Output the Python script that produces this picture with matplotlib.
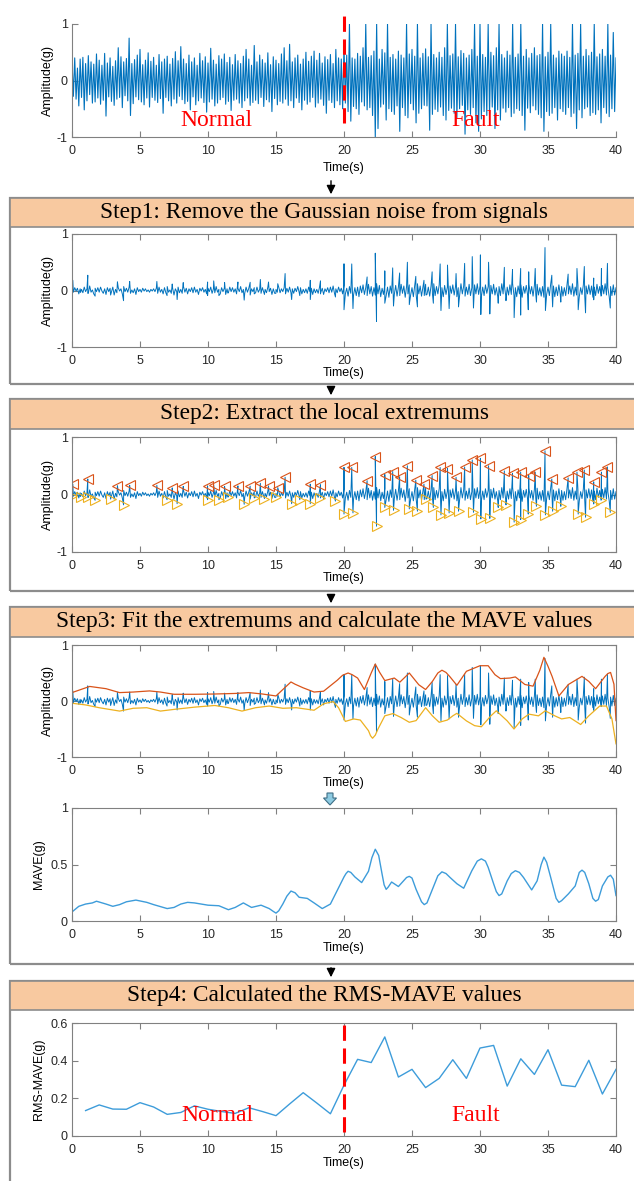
import numpy as np
import matplotlib
matplotlib.use("Agg")
import matplotlib.pyplot as plt
from matplotlib.patches import Rectangle, FancyArrowPatch, FancyArrow

plt.rcParams['font.family'] = ['Liberation Sans', 'DejaVu Sans']
plt.rcParams['axes.unicode_minus'] = False

W, H = 634, 1181

# raw vibration signal, sampled every 0.1 s (values in 0.01 g)
raw_rows = [
    [35, -28, 40, -33, 22, -45, 38, -30, 41, -52, 30, -36, 44, -25, 33, -40, 29, -38, 47, -31],
    [36, -42, 27, -35, 48, -63, 31, -29, 40, -37, 25, -44, 35, -33, 58, -30, 42, -48, 33, -27],
    [39, -36, 75, -62, 30, -41, 37, -29, 45, -34, 55, -38, 28, -43, 36, -31, 49, -47, 34, -30],
    [41, -35, 27, -39, 46, -32, 33, -58, 38, -30, 43, -36, 29, -45, 39, -33, 51, -40, 35, -28],
    [60, -34, 38, -41, 30, -37, 45, -52, 33, -29, 40, -43, 27, -36, 48, -31, 35, -39, 42, -56],
    [31, -38, 57, -33, 36, -45, 29, -40, 44, -34, 38, -30, 47, -42, 32, -37, 41, -53, 28, -35],
    [46, -33, 35, -40, 30, -48, 43, -36, 55, -31, 38, -44, 27, -39, 62, -35, 33, -41, 45, -30],
    [37, -46, 31, -34, 49, -38, 28, -55, 42, -32, 36, -43, 30, -37, 47, -40, 58, -33, 35, -44],
    [64, -36, 33, -48, 40, -31, 45, -39, 29, -52, 38, -35, 50, -42, 34, -38, 43, -30, 52, -47],
    [36, -40, 48, -33, 31, -44, 42, -58, 37, -35, 46, -39, 30, -48, 55, -36, 40, -43, 38, -50],
    [62, -40, 45, -55, 100, -72, 40, -46, 38, -50, 48, -60, 43, -38, 58, -45, 100, -52, 41, -48],
    [44, -62, 52, -100, 100, -85, 38, -47, 55, -42, 49, -70, 100, -50, 41, -55, 46, -60, 38, -45],
    [52, -90, 45, -48, 40, -62, 100, -66, 47, -41, 55, -52, 43, -75, 100, -58, 40, -50, 48, -44],
    [56, -45, 42, -88, 100, -60, 46, -51, 40, -55, 50, -47, 41, -62, 58, -70, 100, -53, 44, -49],
    [47, -58, 100, -66, 42, -50, 53, -44, 48, -95, 40, -52, 45, -60, 55, -48, 100, -75, 43, -90],
    [100, -68, 46, -55, 41, -62, 100, -60, 50, -47, 44, -85, 58, -52, 100, -70, 46, -49, 40, -56],
    [52, -48, 45, -64, 100, -58, 41, -50, 47, -53, 100, -62, 43, -88, 55, -49, 40, -57, 48, -45],
    [58, -52, 44, -60, 46, -66, 100, -90, 42, -55, 50, -62, 100, -58, 45, -48, 40, -70, 52, -50],
    [47, -55, 43, -60, 52, -48, 41, -64, 100, -58, 45, -85, 48, -52, 100, -66, 43, -50, 55, -47],
    [44, -62, 50, -57, 100, -60, 42, -52, 47, -75, 55, -48, 43, -58, 100, -64, 45, -50, 85, -55],
    [40],
]

# denoised signal background, every 0.1 s (values in 0.01 g)
base_rows = [
    [2, -3, 5, -1, 4, -6, 3, 2, -4, 6, -2, 3, -5, 8, -3, 1, -6, 4, -2, 5],
    [-3, 6, -1, -5, 3, -7, 5, -2, 4, -3, 6, -8, 2, -4, 5, -1, 3, -6, 7, -2],
    [4, -3, 6, -5, 1, -4, 3, -7, 5, -2, 2, -3, 4, -1, 3, -2, 1, -3, 2, -1],
    [3, -2, 4, -5, 6, -3, 2, -6, 5, -4, 7, -3, 1, -5, 4, -8, 3, -2, 6, -4],
    [2, -5, 7, -3, 4, -6, 3, -2, 5, -4, 6, -3, 2, -7, 4, -1, 5, -3, 2, -6],
    [4, -2, 6, -5, 3, -4, 7, -3, 2, -6, 5, -2, 4, -7, 3, -4, 6, -2, 5, -3],
    [3, -6, 4, -2, 7, -4, 2, -5, 6, -3, 4, -8, 3, -2, 5, -4, 6, -3, 2, -5],
    [5, -3, 2, -4, 6, -2, 4, -7, 3, -5, 2, -3, 6, -4, 3, -2, 5, -6, 4, -3],
    [6, -4, 3, -5, 4, -2, 7, -3, 5, -6, 2, -4, 3, -5, 6, -2, 4, -7, 3, -4],
    [2, -5, 6, -3, 4, -7, 3, -2, 5, -4, 6, -3, 8, -5, 3, -4, 6, -2, 4, -6],
    [9, -6, 4, -10, 7, -5, 12, -8, 5, -9, 6, -11, 8, -4, 10, -7, 5, -9, 11, -6],
    [7, -10, 5, -8, 12, -6, 9, -11, 4, -7, 10, -9, 6, -12, 8, -5, 11, -7, 9, -10],
    [6, -9, 11, -5, 8, -12, 7, -6, 10, -8, 5, -11, 9, -7, 12, -6, 8, -10, 5, -9],
    [11, -7, 6, -10, 8, -5, 12, -9, 7, -6, 10, -8, 5, -11, 9, -7, 6, -12, 8, -5],
    [10, -8, 7, -11, 5, -9, 12, -6, 8, -10, 6, -7, 11, -9, 5, -8, 10, -6, 12, -7],
    [8, -11, 6, -9, 10, -5, 7, -12, 9, -6, 11, -8, 5, -10, 7, -9, 12, -6, 8, -11],
    [6, -8, 10, -7, 12, -9, 5, -11, 8, -6, 10, -12, 7, -5, 9, -8, 11, -6, 7, -10],
    [9, -6, 11, -8, 5, -10, 7, -12, 10, -7, 6, -9, 12, -5, 8, -11, 6, -9, 10, -7],
    [7, -10, 5, -9, 11, -6, 8, -7, 12, -10, 6, -8, 9, -11, 5, -7, 10, -9, 8, -6],
    [10, -7, 8, -12, 6, -9, 11, -5, 7, -10, 9, -6, 12, -8, 5, -11, 7, -9, 10, -8],
    [5],
]

# local maxima (step 2)
up_t = [0.06, 1.16, 3.34, 4.24, 6.24, 7.37, 8.18, 9.97, 10.42, 11.22, 12.2, 13.1, 13.85,
        14.45, 15.13, 15.67, 17.52, 18.27, 20.0, 20.57, 21.7, 22.3, 23.0, 23.58, 24.09,
        24.66, 25.28, 25.88, 26.48, 27.07, 27.61, 28.24, 28.87, 29.43, 30.03, 30.63,
        31.79, 32.39, 32.99, 33.58, 34.06, 34.78, 35.28, 36.48, 37.13, 37.67, 38.36,
        38.93, 39.37]
up_v = [0.18, 0.27, 0.155, 0.16, 0.16, 0.115, 0.14, 0.15, 0.17, 0.14, 0.15, 0.145, 0.195,
        0.15, 0.12, 0.3, 0.18, 0.17, 0.47, 0.47, 0.24, 0.66, 0.345, 0.4, 0.31,
        0.5, 0.25, 0.18, 0.33, 0.47, 0.45, 0.3, 0.48, 0.6, 0.63, 0.5,
        0.41, 0.37, 0.39, 0.33, 0.39, 0.76, 0.27, 0.29, 0.39, 0.425, 0.22,
        0.39, 0.48]
# local minima (step 2)
lo_t = [0.0, 0.63, 1.16, 1.7, 2.84, 3.79, 6.99, 7.73, 9.97, 10.8, 11.46, 12.66, 13.4,
        14.15, 14.99, 16.15, 16.75, 17.52, 18.27, 19.37, 20.0, 20.66, 22.39, 23.0, 23.64,
        24.8, 25.4, 26.03, 26.57, 27.13, 27.73, 28.42, 29.52, 30.06, 30.72, 31.34, 31.91,
        32.51, 32.99, 33.55, 34.15, 34.81, 35.34, 35.94, 37.22, 37.76, 38.36, 38.93, 39.58]
lo_v = [-0.02, -0.035, -0.05, -0.1, -0.08, -0.18, -0.09, -0.16, -0.09, -0.09, -0.045, -0.17, -0.06,
        -0.07, -0.05, -0.16, -0.09, -0.16, -0.06, -0.115, -0.34, -0.32, -0.55, -0.225, -0.275,
        -0.25, -0.29, -0.08, -0.225, -0.355, -0.32, -0.29, -0.31, -0.425, -0.415, -0.225, -0.18,
        -0.48, -0.435, -0.34, -0.205, -0.355, -0.29, -0.205, -0.34, -0.395, -0.165, -0.09, -0.31]

# fitted envelopes (step 3)
env_up_t = [0, 1.3, 2.5, 3.5, 4.5, 5.7, 6.5, 7.5, 9, 10.5, 12, 13, 14, 15, 15.7, 16.1, 16.4,
            17, 17.8, 18.5, 19.5, 19.9, 20.3, 20.6, 21, 21.5, 22.0, 22.3, 22.6, 23.0, 23.7,
            24.1, 24.8, 25.5, 26.0, 26.5, 26.9, 27.2, 27.5, 27.8, 28.3, 29.0, 30.0, 30.6,
            31.1, 31.5, 32.2, 32.6, 33.3, 33.9, 34.4, 34.7, 35.0, 35.3, 35.8, 36.5, 37.5,
            38.0, 38.5, 39.2, 39.4, 39.6, 39.85, 40]
env_up_v = [0.15, 0.26, 0.22, 0.15, 0.16, 0.18, 0.16, 0.12, 0.12, 0.125, 0.135, 0.15, 0.125,
            0.09, 0.25, 0.34, 0.3, 0.235, 0.16, 0.175, 0.37, 0.46, 0.5, 0.47, 0.41, 0.205,
            0.5, 0.66, 0.52, 0.365, 0.41, 0.335, 0.5, 0.29, 0.205, 0.35, 0.5, 0.55, 0.51,
            0.43, 0.28, 0.53, 0.63, 0.63, 0.47, 0.4, 0.41, 0.43, 0.295, 0.265, 0.55, 0.78,
            0.62, 0.44, 0.09, 0.295, 0.44, 0.35, 0.22, 0.44, 0.49, 0.51, 0.3, -0.35]
env_lo_t = [0, 1, 2, 3.5, 4.5, 5.5, 6.5, 7.5, 9, 10.5, 11.5, 12.5, 13.5, 14.5, 15.5, 16.5,
            17.8, 18.5, 19.2, 19.6, 20.1, 20.7, 21.2, 21.8, 21.95, 22.1, 22.3, 22.5, 23.0,
            23.6, 24.2, 24.8, 25.3, 26.0, 26.5, 27.0, 27.6, 28.0, 28.3, 29.0, 29.6, 30.1,
            30.8, 31.2, 32.0, 32.5, 33.1, 33.6, 34.3, 34.8, 35.5, 36.0, 36.6, 37.4, 38.0,
            38.8, 39.3, 39.7, 40]
env_lo_v = [-0.04, -0.07, -0.12, -0.18, -0.13, -0.12, -0.18, -0.15, -0.11, -0.08, -0.12, -0.18,
            -0.12, -0.09, -0.13, -0.12, -0.165, -0.05, -0.01, -0.12, -0.365, -0.32, -0.34,
            -0.53, -0.62, -0.665, -0.61, -0.5, -0.265, -0.225, -0.295, -0.38, -0.35, -0.12,
            -0.265, -0.38, -0.34, -0.265, -0.22, -0.355, -0.44, -0.46, -0.265, -0.175,
            -0.355, -0.5, -0.32, -0.235, -0.265, -0.175, -0.265, -0.32, -0.295, -0.42,
            -0.265, -0.09, -0.09, -0.32, -0.765]

# MAVE curve (step 3)
mave_t = [0, 0.5, 1, 1.5, 1.8, 2.5, 3, 3.5, 4, 4.7, 5.5, 6, 7, 7.5, 8, 8.5, 9, 10, 10.8,
          11.5, 12, 12.6, 13.2, 13.9, 14.5, 14.8, 15, 15.2, 15.5, 15.8, 16.1, 16.4, 16.7,
          17.3, 17.8, 18.4, 19, 19.5, 20.0, 20.15, 20.3, 20.5, 20.8, 21.3, 21.8, 22.05,
          22.3, 22.55, 22.8, 22.95, 23.1, 23.25, 23.5, 24.0, 24.6, 24.8, 25.0, 25.3, 25.7,
          25.9, 26.1, 26.5, 26.9, 27.2, 27.5, 27.8, 28.3, 28.8, 29.4, 29.8, 30.1, 30.4,
          30.6, 31.0, 31.2, 31.4, 31.6, 32.0, 32.3, 32.6, 32.9, 33.2, 33.8, 34.2, 34.5,
          34.7, 34.9, 35.2, 35.6, 35.8, 36.0, 36.5, 37.0, 37.3, 37.5, 37.7, 38.0, 38.3,
          38.5, 38.7, 39.0, 39.4, 39.6, 39.8, 40]
mave_v = [0.08, 0.13, 0.15, 0.16, 0.175, 0.15, 0.13, 0.145, 0.17, 0.185, 0.165, 0.145, 0.11,
          0.12, 0.15, 0.165, 0.16, 0.14, 0.135, 0.10, 0.12, 0.16, 0.12, 0.14, 0.11, 0.085,
          0.07, 0.09, 0.15, 0.22, 0.265, 0.25, 0.21, 0.2, 0.16, 0.11, 0.15, 0.27, 0.39, 0.42,
          0.44, 0.43, 0.39, 0.34, 0.44, 0.56, 0.635, 0.58, 0.415, 0.32, 0.28, 0.3, 0.345,
          0.305, 0.385, 0.395, 0.38, 0.28, 0.17, 0.145, 0.16, 0.28, 0.4, 0.435, 0.42, 0.385,
          0.33, 0.29, 0.445, 0.53, 0.55, 0.53, 0.475, 0.33, 0.26, 0.225, 0.24, 0.355, 0.42,
          0.445, 0.43, 0.385, 0.275, 0.355, 0.5, 0.565, 0.52, 0.385, 0.2, 0.165, 0.18, 0.24,
          0.31, 0.43, 0.45, 0.43, 0.33, 0.2, 0.175, 0.19, 0.31, 0.39, 0.405, 0.37, 0.225]

# RMS-MAVE, one value per second (step 4)
rms_t = list(range(1, 41))
rms_v = [0.135, 0.165, 0.143, 0.142, 0.177, 0.154, 0.115, 0.125, 0.16, 0.142,
         0.13, 0.12, 0.15, 0.13, 0.108, 0.17, 0.23, 0.175, 0.118, 0.27,
         0.407, 0.39, 0.526, 0.313, 0.354, 0.257, 0.306, 0.405, 0.306, 0.467,
         0.481, 0.265, 0.41, 0.327, 0.458, 0.27, 0.262, 0.402, 0.223, 0.354]

split_t = 20
split_top = [-0.75, 1.2]
split_rms = [0.02, 0.6]

raw_sig = np.array([v for row in raw_rows for v in row]) / 100.0
t_raw = np.arange(len(raw_sig)) * 0.1
base_sig = np.array([v for row in base_rows for v in row]) / 100.0
t_base = np.arange(len(base_sig)) * 0.1

den_t = np.concatenate([t_base, up_t, lo_t])
den_v = np.concatenate([base_sig, up_v, lo_v])
order = np.argsort(den_t, kind='stable')
den_t, den_v = den_t[order], den_v[order]

BLUE = '#0072BD'
LIGHT = '#3D9CDA'
RED = '#D95319'
YEL = '#EDB120'
GRAY = '#808080'
TITLE_SIZE = 16.8

fig = plt.figure(figsize=(W / 100, H / 100), dpi=100)


def px_axes(top, bottom):
    return fig.add_axes([72 / W, 1 - bottom / H, 544 / W, (bottom - top) / H])


def style(ax, box=True):
    for s in ax.spines.values():
        s.set_color(GRAY)
        s.set_linewidth(0.8)
    if not box:
        ax.spines['top'].set_visible(False)
        ax.spines['right'].set_visible(False)
    ax.tick_params(direction='in', length=4, width=0.8, color=GRAY, labelsize=9,
                   labelcolor='#262626', top=box, right=box, pad=3)
    ax.tick_params(axis='x', pad=5.5)
    ax.set_xlim(0, 40)
    ax.set_xticks(range(0, 41, 5))


def step_box(top, head_bottom, bottom, title):
    fig.add_artist(Rectangle((10 / W, 1 - bottom / H), 630 / W, (bottom - top) / H,
                             transform=fig.transFigure, fill=False, ec='#8c8c8c', lw=1.6))
    fig.add_artist(Rectangle((10 / W, 1 - head_bottom / H), 630 / W, (head_bottom - top) / H,
                             transform=fig.transFigure, fc='#F8C9A0', ec='#8c8c8c', lw=1.2))
    fig.text(324 / W, 1 - (top + head_bottom) / 2 / H, title, ha='center', va='center',
             family='Liberation Serif', fontsize=TITLE_SIZE)


def down_arrow(y0, y1, x=331):
    fig.add_artist(FancyArrowPatch((x / 100, (H - y0) / 100), (x / 100, (H - y1) / 100),
                                   transform=fig.dpi_scale_trans, arrowstyle='-|>',
                                   mutation_scale=13, lw=1.0, color='black'))


amp_ticks = [-1, 0, 1]

# raw signal
ax0 = px_axes(24, 137)
ax0.plot(t_raw, raw_sig, color=BLUE, lw=0.8)
ax0.plot([split_t, split_t], split_top, color='red', lw=2.2, ls=(0, (5, 2.5)), clip_on=False)
ax0.text(10.6, -0.71, 'Normal', color='red', fontsize=17, family='Liberation Serif',
         ha='center', va='center')
ax0.text(29.7, -0.71, 'Fault', color='red', fontsize=17, family='Liberation Serif',
         ha='center', va='center')
ax0.set_ylim(-1, 1)
ax0.set_yticks(amp_ticks)
style(ax0, box=False)
ax0.set_ylabel('Amplitude(g)', fontsize=9, labelpad=2)
ax0.set_xlabel('Time(s)', fontsize=9, labelpad=4)

# step 1
step_box(198, 227, 384, 'Step1: Remove the Gaussian noise from signals')
ax1 = px_axes(234, 347)
ax1.plot(den_t, den_v, color=BLUE, lw=0.7)
ax1.set_ylim(-1, 1)
ax1.set_yticks(amp_ticks)
style(ax1)
ax1.set_ylabel('Amplitude(g)', fontsize=9, labelpad=2)
ax1.set_xlabel('Time(s)', fontsize=9, labelpad=0)

# step 2
step_box(399, 429, 591, 'Step2: Extract the local extremums')
ax2 = px_axes(437, 552)
ax2.plot(den_t, den_v, color=BLUE, lw=0.7)
ax2.plot(up_t, up_v, ls='none', marker='<', mfc='none', mec=RED, ms=7, mew=0.8)
ax2.plot(lo_t, lo_v, ls='none', marker='>', mfc='none', mec=YEL, ms=7, mew=0.8)
ax2.set_ylim(-1, 1)
ax2.set_yticks(amp_ticks)
style(ax2)
ax2.set_ylabel('Amplitude(g)', fontsize=9, labelpad=2)
ax2.set_xlabel('Time(s)', fontsize=9, labelpad=0)

# step 3
step_box(607, 637, 964, 'Step3: Fit the extremums and calculate the MAVE values')
ax3 = px_axes(645, 757)
ax3.plot(den_t, den_v, color=BLUE, lw=0.7)
ax3.plot(env_up_t, env_up_v, color=RED, lw=0.9)
ax3.plot(env_lo_t, env_lo_v, color=YEL, lw=0.9)
ax3.set_ylim(-1, 1)
ax3.set_yticks(amp_ticks)
style(ax3)
ax3.set_ylabel('Amplitude(g)', fontsize=9, labelpad=2)
ax3.set_xlabel('Time(s)', fontsize=9, labelpad=0)

ax4 = px_axes(808, 921)
ax4.plot(mave_t, mave_v, color=LIGHT, lw=1.0)
ax4.set_ylim(0, 1)
ax4.set_yticks([0, 0.5, 1])
ax4.set_yticklabels(['0', '0.5', '1'])
style(ax4)
ax4.set_ylabel('MAVE(g)', fontsize=9, labelpad=4)
ax4.set_xlabel('Time(s)', fontsize=9, labelpad=1)

fig.add_artist(FancyArrow(3.30, (H - 793) / 100, 0, -0.12, width=0.06, head_width=0.13,
                          head_length=0.07, length_includes_head=True,
                          transform=fig.dpi_scale_trans, fc='#8DCBE2', ec='#3F6F86', lw=0.8))

# step 4
step_box(981, 1010, 1200, 'Step4: Calculated the RMS-MAVE values')
ax5 = px_axes(1023, 1136)
ax5.plot(rms_t, rms_v, color=LIGHT, lw=1.0)
ax5.plot([split_t, split_t], split_rms, color='red', lw=2.2, ls=(0, (5, 2.5)))
ax5.text(10.7, 0.109, 'Normal', color='red', fontsize=17, family='Liberation Serif',
         ha='center', va='center')
ax5.text(29.7, 0.109, 'Fault', color='red', fontsize=17, family='Liberation Serif',
         ha='center', va='center')
ax5.set_ylim(0, 0.6)
ax5.set_yticks([0, 0.2, 0.4, 0.6])
ax5.set_yticklabels(['0', '0.2', '0.4', '0.6'])
style(ax5)
ax5.set_ylabel('RMS-MAVE(g)', fontsize=9, labelpad=4)
ax5.set_xlabel('Time(s)', fontsize=9, labelpad=1)

down_arrow(178, 197)
down_arrow(385, 398)
down_arrow(592, 606)
down_arrow(965, 980)

fig.savefig('out.png', dpi=100)
